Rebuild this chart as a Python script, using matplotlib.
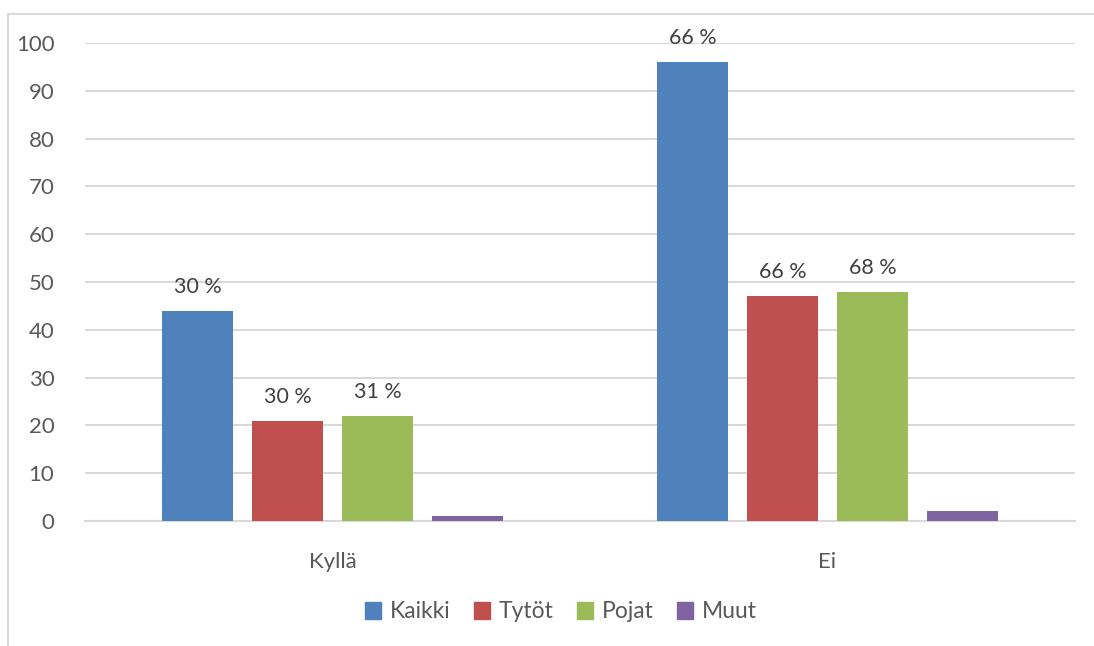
import matplotlib.pyplot as plt
import numpy as np
from matplotlib.lines import Line2D

# Data
categories = ['Kyllä', 'Ei']
series_names = ['Kaikki', 'Tytöt', 'Pojat', 'Muut']
kaikki = [44, 96]
tytot = [21, 47]
pojat = [22, 48]
muut = [1, 2]
labels_kaikki = ['30 %', '66 %']
labels_tytot = ['30 %', '66 %']
labels_pojat = ['31 %', '68 %']

colors = ['#4F81BD', '#C0504D', '#9BBB59', '#8064A2']
text_color = '#595959'
grid_color = '#D9D9D9'

plt.rcParams['font.family'] = ['Lato', 'DejaVu Sans']

fig = plt.figure(figsize=(10.94, 6.46), dpi=100)
ax = fig.add_axes([85 / 1094, 1 - 521 / 646, 990 / 1094, 478 / 646])

x = np.arange(len(categories))
width = 71 / 495
step = 90 / 495
values = [kaikki, tytot, pojat, muut]
labels = [labels_kaikki, labels_tytot, labels_pojat, None]

for i, (vals, col, name) in enumerate(zip(values, colors, series_names)):
    pos = x + (i - 1.5) * step
    bars = ax.bar(pos, vals, width=width, color=col, label=name, zorder=3)
    if labels[i] is not None:
        ax.bar_label(bars, labels=labels[i], padding=10, fontsize=15.5,
                     color='#404040')

ax.set_xlim(-0.5, 1.5)
ax.set_ylim(0, 100)
ax.set_yticks(np.arange(0, 101, 10))
ax.yaxis.grid(True, color=grid_color, linewidth=1.5, zorder=0)
ax.set_xticks(x)
ax.set_xticklabels(categories)
ax.tick_params(axis='both', length=0, labelsize=16, colors=text_color)
ax.tick_params(axis='y', pad=22)
ax.tick_params(axis='x', pad=22)
for s in ['top', 'right', 'left']:
    ax.spines[s].set_visible(False)
ax.spines['bottom'].set_color(grid_color)
ax.spines['bottom'].set_linewidth(1.5)

handles = [plt.Rectangle((0, 0), 1, 1, color=c) for c in colors]
fig.legend(handles, series_names, loc='center', bbox_to_anchor=(561 / 1094, 1 - 612 / 646),
           ncol=4, frameon=False, fontsize=16.5, labelcolor=text_color,
           handlelength=0.7, handleheight=0.7, handletextpad=0.4, columnspacing=1.0)

# chart border (left and top visible)
fig.add_artist(Line2D([8 / 1094, 8 / 1094], [0, 1 - 14 / 646], color=grid_color, lw=1.5))
fig.add_artist(Line2D([8 / 1094, 1], [1 - 14 / 646, 1 - 14 / 646], color=grid_color, lw=1.5))

fig.savefig('out.png', dpi=100)
